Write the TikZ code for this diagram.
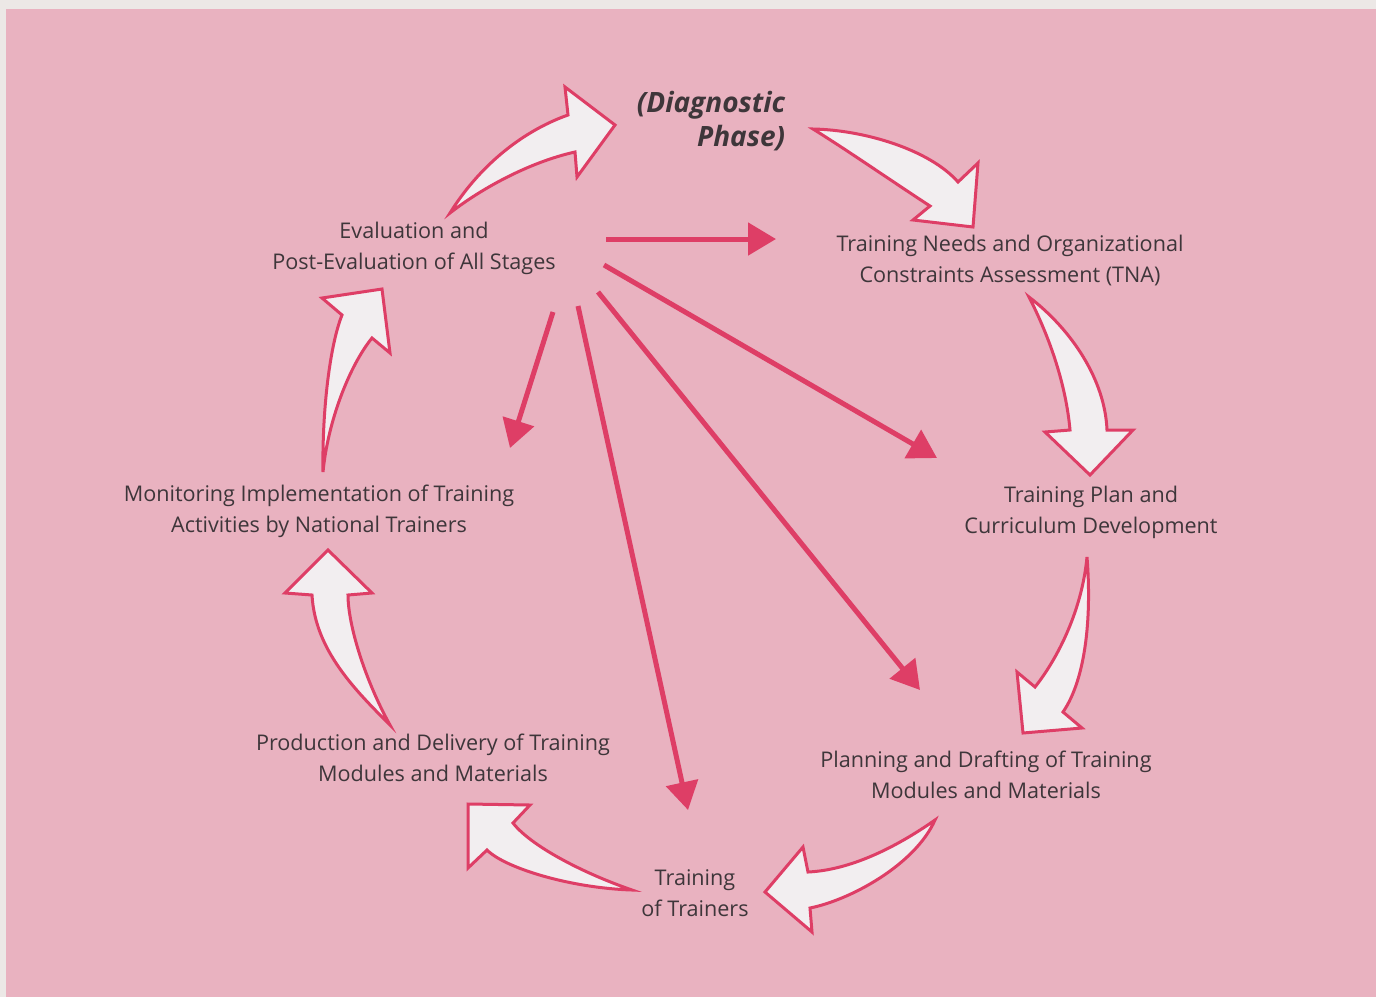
\documentclass[tikz,border=0pt]{standalone}
\usepackage{fontspec}
\setmainfont{Open Sans}
\usepackage{xcolor}
\usepackage{tikz}
\usetikzlibrary{arrows.meta}
\definecolor{paperbg}{RGB}{236,232,230}
\definecolor{cyclebg}{RGB}{233,178,192}
\definecolor{cyclered}{RGB}{222,62,102}
\definecolor{arrowfill}{RGB}{242,238,240}
\definecolor{stagetext}{RGB}{62,54,58}
\newcommand{\cyclearrow}[8]{%   tail, bend, inner, barb, tip, barb, inner, bend
  \draw[bendarr] #1 .. controls #2 .. #3 -- #4 -- #5 -- #6 -- #7 .. controls #8 .. #1 -- cycle;}
\begin{document}
\begin{tikzpicture}[x=0.5pt, y=-0.5pt,
    stage/.style={font=\fontsize{10.8}{15.5}\selectfont, text=stagetext, align=center, inner sep=1pt},
    bendarr/.style={draw=cyclered, fill=arrowfill, line width=1.5pt, line join=miter},
    ray/.style={draw=cyclered, line width=2.5pt, -{Triangle[length=14pt,width=16pt]}}]

% ---- page and panel
\fill[paperbg] (0,0) rectangle (1376,997);
\fill[cyclebg] (6,9) rectangle (1376,997);

% ---- stages
\node[stage, font=\fontsize{14}{17}\selectfont\bfseries\itshape, align=right] (diag) at (711,121)
  {(Diagnostic\\Phase)};
\node[stage] (tna) at (1010,260) {Training Needs and Organizational\\Constraints Assessment (TNA)};
\node[stage] (plan) at (1091,512) {Training Plan and\\Curriculum Development};
\node[stage] (draft) at (986,775) {Planning and Drafting of Training\\Modules and Materials};
\node[stage] (tot) at (695,893) {Training\\of Trainers};
\node[stage] (prod) at (433,758) {Production and Delivery of Training\\Modules and Materials};
\node[stage] (monit) at (319,511) {Monitoring Implementation of Training\\Activities by National Trainers};
\node[stage] (evalu) at (414,248) {Evaluation and\\Post-Evaluation of All Stages};

% ---- the cycle
\cyclearrow{(450,213)}{(478,168) and (520,132)}{(568,115)}{(565,87)}{(615,125)}{(577,177)}{(575,152)}{(530,162) and (482,188)}
\cyclearrow{(813,129)}{(865,130) and (930,150)}{(958,182)}{(978,163)}{(973,227)}{(913,220)}{(930,206)}{(890,180) and (850,152)}
\cyclearrow{(1029,297)}{(1072,330) and (1105,380)}{(1107,430)}{(1133,430)}{(1090,475)}{(1045,432)}{(1070,430)}{(1066,385) and (1050,338)}
\cyclearrow{(1087,557)}{(1092,620) and (1085,680)}{(1063,712)}{(1082,728)}{(1023,733)}{(1017,672)}{(1035,687)}{(1058,658) and (1082,610)}
\cyclearrow{(935,820)}{(895,848) and (850,870)}{(808,872)}{(803,847)}{(765,892)}{(812,932)}{(810,908)}{(850,900) and (915,865)}
\cyclearrow{(632,890)}{(580,872) and (530,845)}{(513,823)}{(530,805)}{(468,804)}{(468,868)}{(487,850)}{(505,868) and (570,888)}
\cyclearrow{(390,725)}{(365,680) and (348,625)}{(348,595)}{(372,593)}{(328,550)}{(285,593)}{(312,595)}{(315,650) and (355,690)}
\cyclearrow{(323,472)}{(322,410) and (330,345)}{(342,315)}{(322,298)}{(382,289)}{(390,353)}{(372,338)}{(350,365) and (328,420)}

% ---- feedback from evaluation to every stage
\coordinate (r1s) at (606,239);  \coordinate (r1e) at (776,239);
\coordinate (r2s) at (604,265);  \coordinate (r2e) at (937,458);
\coordinate (r3s) at (598,292);  \coordinate (r3e) at (920,690);
\coordinate (r4s) at (578,306);  \coordinate (r4e) at (688,810);
\coordinate (r5s) at (553,312);  \coordinate (r5e) at (510,448);
\foreach \r in {1,...,5}{\draw[ray] (r\r s) -- (r\r e);}
\end{tikzpicture}
\end{document}
